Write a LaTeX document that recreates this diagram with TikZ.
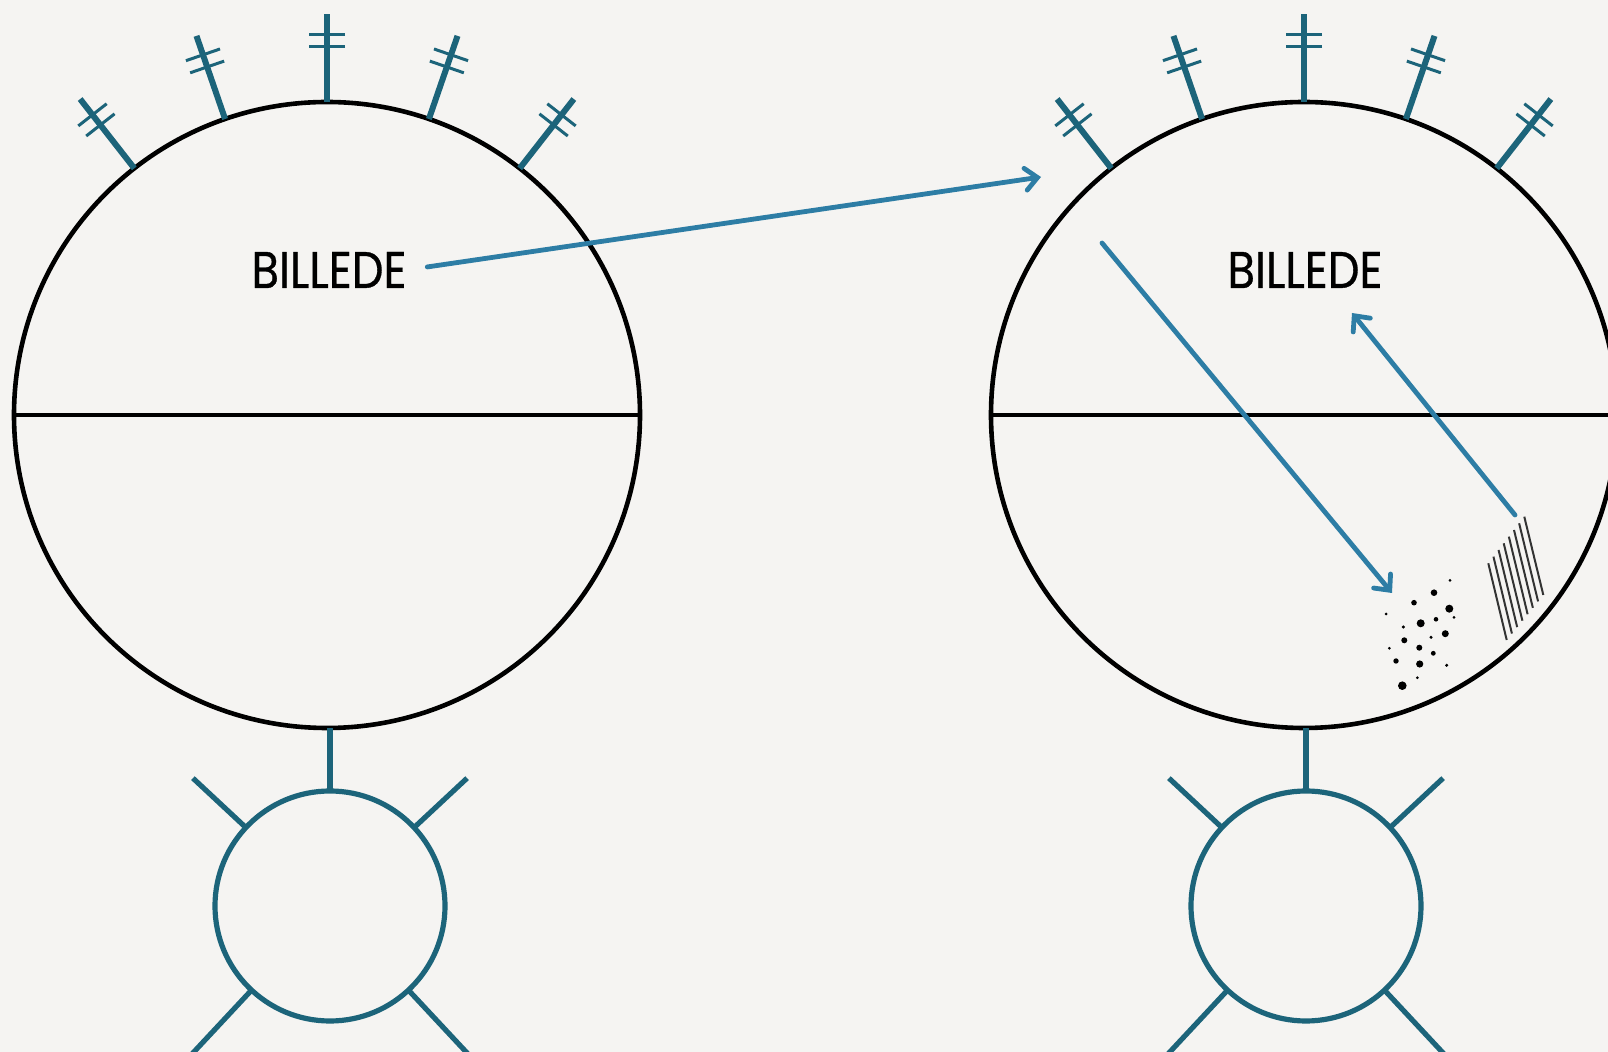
\documentclass[tikz,border=0pt]{standalone}
\usepackage{graphicx}
\usepackage{fontspec}
\setmainfont{Poppins}
\newfontfamily\lblfont{Poppins}[FakeBold=0.7]
\usetikzlibrary{calc,arrows.meta}
\definecolor{bgc}{RGB}{245,244,242}
\definecolor{antc}{RGB}{28,100,122}
\definecolor{arrc}{RGB}{45,125,165}
\begin{document}
\begin{tikzpicture}[x=0.5pt,y=-0.5pt,
  bigc/.style={circle,draw=black,line width=2.3pt,minimum size=313pt,inner sep=0pt,outer sep=0pt},
  smallc/.style={circle,draw=antc,line width=2.6pt,minimum size=115pt,inner sep=0pt,outer sep=0pt},
  stem/.style={draw=antc,line width=3pt},
  bar/.style={draw=antc,line width=1.5pt},
  ray/.style={draw=antc,line width=2.6pt},
  flow/.style={draw=arrc,line width=2.4pt,line cap=round,-{Straight Barb[length=6pt,width=11pt,line cap=round]}},
  lbl/.style={inner sep=0pt,outer sep=0pt,font=\lblfont},
  hatch/.style={draw=black!80,line width=1pt},
  dot/.style={fill=black}
]
\fill[bgc] (0,0) rectangle (1608,1052);
\clip (0,0) rectangle (1608,1052);

% big circles
\node[bigc] (L) at (327,415) {};
\node[bigc] (R) at (1304,415) {};
\draw[black,line width=2.3pt] (L.west) -- (L.east);
\draw[black,line width=2.3pt] (R.west) -- (R.east);

% antennas
\foreach \c in {L,R} {
  \foreach \a in {52,71,90,109,128} {
    \draw[stem] (\c.\a) -- ($(\c.center)!1.281!(\c.\a)$);
    \foreach \f in {1.217,1.176} {
      \coordinate (p) at ($(\c.center)!\f!(\c.\a)$);
      \draw[bar] ($(p)!9pt!90:(\c.center)$) -- ($(p)!9pt!-90:(\c.center)$);
    }
  }
}

% small circles
\node[smallc] (sL) at (330,906) {};
\node[smallc] (sR) at (1306,906) {};
\foreach \c/\d in {sL/L,sR/R} {
  \draw[stem] (\c.north) -- (\c.north |- \d.south);
  \foreach \a/\f in {43/1.63,137/1.63,227/1.8,313/1.8} {
    \draw[ray] (\c.\a) -- ($(\c.center)!\f!(\c.\a)$);
  }
}

% labels
\node[lbl] (tL) at (329,270) {\resizebox{77.5pt}{18pt}{BILLEDE}};
\node[lbl] (tR) at (1305,270) {\resizebox{77.5pt}{18pt}{BILLEDE}};

% arrow endpoints
\coordinate (a1e) at (1041,177);
\coordinate (a2s) at (1102,243);
\coordinate (a2e) at (1392,593);
\coordinate (a3s) at (1515,515);
\coordinate (a3e) at (1352,313);

\draw[flow,shorten <=10.5pt] (tL.east) -- (a1e);
\draw[flow] (a2s) -- (a2e);
\draw[flow] (a3s) -- (a3e);

% dots
\foreach \x/\y/\r in {1450/580.3/1.5,1434/592.7/3.3,1414/602.7/2.8,1449.3/608.7/4,1386/614/1.5,1454/617.3/1.5,1436/619.3/2.3,1420.7/623.3/4,1403.3/627/1.7,1445.3/633.7/3.5,1431/637.3/1.7,1404.3/640.3/3,1419.3/647.7/3,1389.3/648.3/1.5,1433.3/653.3/2.4,1396/661/2.7,1419.7/664/3.6,1446.7/665.3/1.7,1417.3/677.7/1.5,1402.3/685.7/4.3} {
  \fill[dot] (\x,\y) circle[radius=\r*0.5pt];
}

% hatching
\foreach \i in {0,...,7} {
  \draw[hatch] ({1488.3+5.14*\i},{563.3-6.66*\i}) -- ({1506.7+5.23*\i},{640-6.43*\i});
}
\end{tikzpicture}
\end{document}
